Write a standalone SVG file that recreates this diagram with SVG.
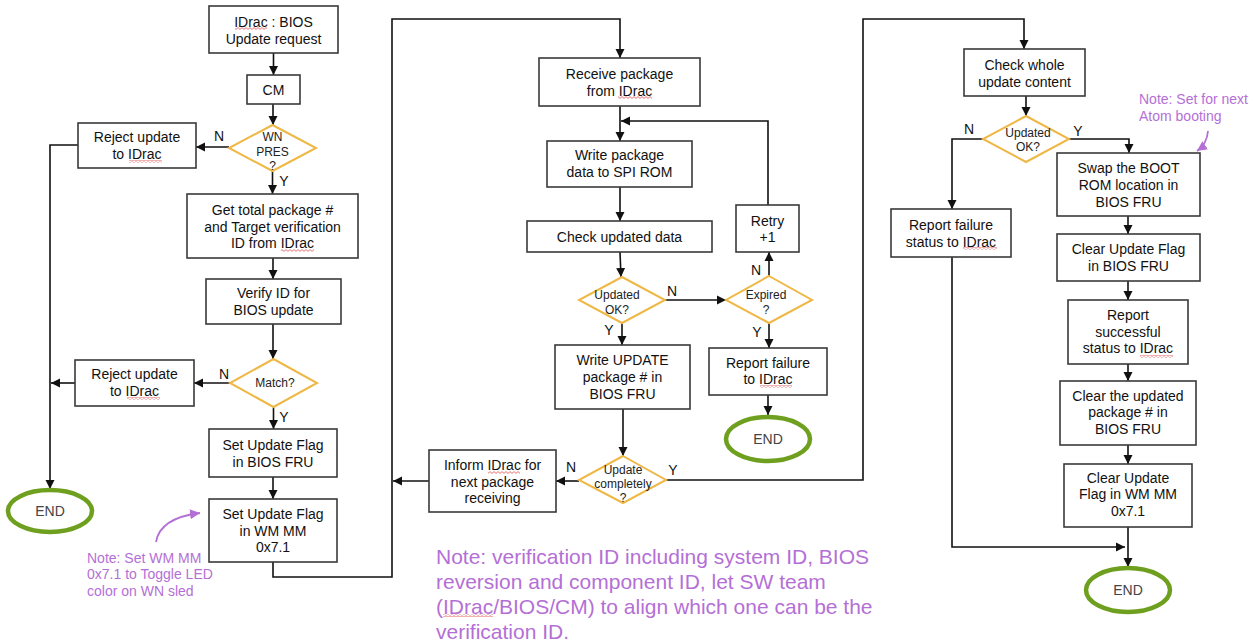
<svg xmlns="http://www.w3.org/2000/svg" width="1258" height="644" viewBox="0 0 1258 644">
<defs>
<style>
.box{fill:#fff;stroke:#3a3a3a;stroke-width:1.6}
.dia{fill:#fff;stroke:#efb845;stroke-width:2}
.end{fill:#fff;stroke:#6e9f1e;stroke-width:4.5}
.t{font-family:"Liberation Sans",Arial,sans-serif;font-size:14px;fill:#111;text-anchor:middle}
.ts{font-family:"Liberation Sans",Arial,sans-serif;font-size:12px;fill:#222;text-anchor:middle}
.te{font-family:"Liberation Sans",Arial,sans-serif;font-size:14px;fill:#444;text-anchor:middle}
.lb{font-family:"Liberation Sans",Arial,sans-serif;font-size:14px;fill:#111;text-anchor:middle}
.note{font-family:"Liberation Sans",Arial,sans-serif;font-size:14px;fill:#b46fd6}
.bignote{font-family:"Liberation Sans",Arial,sans-serif;font-size:21px;fill:#b46fd6}
.c{fill:none;stroke:#111;stroke-width:1.6}
.pc{fill:none;stroke:#b46fd6;stroke-width:1.8}
.sq{fill:url(#wave)}
</style>
<marker id="ah" markerWidth="10" markerHeight="10" refX="9" refY="5" orient="auto" markerUnits="userSpaceOnUse">
<path d="M0,0.5 L9,5 L0,9.5 Z" fill="#111"/>
</marker>
<marker id="ph" markerWidth="12" markerHeight="12" refX="10" refY="6" orient="auto" markerUnits="userSpaceOnUse">
<path d="M0,1 L10,6 L0,11 Z" fill="#b46fd6"/>
</marker>
<pattern id="wave" width="4" height="3" patternUnits="userSpaceOnUse">
<polyline points="0,2.4 2,0.6 4,2.4" fill="none" stroke="#d33" stroke-width="0.7"/>
</pattern>
</defs>

<g id="connectors">
<path class="c" d="M273.5,53 V75" marker-end="url(#ah)"/>
<path class="c" d="M273,104 V125" marker-end="url(#ah)"/>
<path class="c" d="M229,147 H196" marker-end="url(#ah)"/>
<path class="c" d="M272.5,171 V194" marker-end="url(#ah)"/>
<path class="c" d="M273,258 V279" marker-end="url(#ah)"/>
<path class="c" d="M273,324 V359" marker-end="url(#ah)"/>
<path class="c" d="M230,383 H194" marker-end="url(#ah)"/>
<path class="c" d="M75,383 H51" marker-end="url(#ah)"/>
<path class="c" d="M78,145 H50 V489" marker-end="url(#ah)"/>
<path class="c" d="M273.5,407 V429" marker-end="url(#ah)"/>
<path class="c" d="M273,477 V499" marker-end="url(#ah)"/>
<path class="c" d="M273,562 V577 H392 V19 H620 V58" marker-end="url(#ah)"/>
<path class="c" d="M429,481 H393" marker-end="url(#ah)"/>

<path class="c" d="M620,106 V141" marker-end="url(#ah)"/>
<path class="c" d="M768,205 V121 H621" marker-end="url(#ah)"/>
<path class="c" d="M620,187 V221" marker-end="url(#ah)"/>
<path class="c" d="M620,252 L621,277" marker-end="url(#ah)"/>
<path class="c" d="M665,300 H726" marker-end="url(#ah)"/>
<path class="c" d="M769,276 V252" marker-end="url(#ah)"/>
<path class="c" d="M769,323 V348" marker-end="url(#ah)"/>
<path class="c" d="M768,395 V415" marker-end="url(#ah)"/>
<path class="c" d="M622,323 V345" marker-end="url(#ah)"/>
<path class="c" d="M623,409 V456" marker-end="url(#ah)"/>
<path class="c" d="M579,481 H556" marker-end="url(#ah)"/>
<path class="c" d="M666,480 H863 V19 H1024 V49" marker-end="url(#ah)"/>

<path class="c" d="M1026,96 V116" marker-end="url(#ah)"/>
<path class="c" d="M983,139 H952 V209" marker-end="url(#ah)"/>
<path class="c" d="M952,257 V547 H1125" marker-end="url(#ah)"/>
<path class="c" d="M1069,139 H1129 V153" marker-end="url(#ah)"/>
<path class="c" d="M1128,216 V234" marker-end="url(#ah)"/>
<path class="c" d="M1128,281 V300" marker-end="url(#ah)"/>
<path class="c" d="M1128,364 V381" marker-end="url(#ah)"/>
<path class="c" d="M1128,445 V464" marker-end="url(#ah)"/>
<path class="c" d="M1128,527 V567" marker-end="url(#ah)"/>

<path class="pc" d="M156,542 Q160,518 200,513" marker-end="url(#ph)"/>
<path class="pc" d="M1208,131 Q1207,144 1197,151" marker-end="url(#ph)"/>

<text class="lb" x="219" y="141">N</text>
<text class="lb" x="284" y="186">Y</text>
<text class="lb" x="224" y="379">N</text>
<text class="lb" x="284" y="422">Y</text>
<text class="lb" x="672" y="296">N</text>
<text class="lb" x="756" y="275">N</text>
<text class="lb" x="757" y="337">Y</text>
<text class="lb" x="609" y="335">Y</text>
<text class="lb" x="571" y="472">N</text>
<text class="lb" x="673" y="475">Y</text>
<text class="lb" x="969" y="134">N</text>
<text class="lb" x="1078" y="136">Y</text>
</g>

<g id="n-start"><rect class="box" x="209" y="6" width="129" height="47"/><text class="t" x="273.5" y="27">IDrac : BIOS</text><text class="t" x="273.5" y="44">Update request</text><rect class="sq" x="235" y="27" width="32" height="3"/></g>
<g id="n-cm"><rect class="box" x="247" y="75" width="53" height="29"/><text class="t" x="273.5" y="94.5">CM</text></g>
<g id="n-wnpres"><polygon class="dia" points="272.5,125 316,148 272.5,171 229,148"/><text class="ts" x="272.5" y="141">WN</text><text class="ts" x="272.5" y="156">PRES</text><text class="ts" x="272.5" y="170">?</text></g>
<g id="n-reject1"><rect class="box" x="78" y="123" width="118" height="45"/><text class="t" x="137" y="142">Reject update</text><text class="t" x="137" y="159">to IDrac</text><rect class="sq" x="129" y="160" width="33" height="3"/></g>
<g id="n-gettotal"><rect class="box" x="187" y="194" width="171" height="64"/><text class="t" x="272.5" y="215">Get total package #</text><text class="t" x="272.5" y="232">and Target verification</text><text class="t" x="272.5" y="248">ID from IDrac</text><rect class="sq" x="281" y="249" width="33" height="3"/></g>
<g id="n-verify"><rect class="box" x="206" y="279" width="135" height="45"/><text class="t" x="273.5" y="298">Verify ID for</text><text class="t" x="273.5" y="315">BIOS update</text></g>
<g id="n-match"><polygon class="dia" points="273.5,359 317,383 273.5,407 230,383"/><text class="ts" x="275" y="387">Match?</text></g>
<g id="n-reject2"><rect class="box" x="75" y="360" width="119" height="46"/><text class="t" x="134.5" y="379">Reject update</text><text class="t" x="134.5" y="396">to IDrac</text><rect class="sq" x="127" y="397" width="33" height="3"/></g>
<g id="n-setbios"><rect class="box" x="209" y="429" width="128" height="48"/><text class="t" x="273" y="450">Set Update Flag</text><text class="t" x="273" y="467">in BIOS FRU</text></g>
<g id="n-setwm"><rect class="box" x="209" y="499" width="128" height="63"/><text class="t" x="273" y="519">Set Update Flag</text><text class="t" x="273" y="536">in WM MM</text><text class="t" x="273" y="552">0x7.1</text></g>
<g id="n-end1"><ellipse class="end" cx="50" cy="511" rx="42" ry="21"/><text class="te" x="50" y="516">END</text></g>
<g id="n-note1"><text class="note" x="87" y="563">Note: Set WM MM</text><text class="note" x="87" y="579">0x7.1 to Toggle LED</text><text class="note" x="87" y="596">color on WN sled</text></g>

<g id="n-receive"><rect class="box" x="539" y="58" width="161" height="48"/><text class="t" x="619.5" y="79">Receive package</text><text class="t" x="619.5" y="96">from IDrac</text><rect class="sq" x="618" y="96" width="34" height="3"/></g>
<g id="n-write"><rect class="box" x="547" y="141" width="145" height="46"/><text class="t" x="619.5" y="160">Write package</text><text class="t" x="619.5" y="177">data to SPI ROM</text></g>
<g id="n-check"><rect class="box" x="527" y="221" width="185" height="31"/><text class="t" x="619.5" y="242">Check updated data</text></g>
<g id="n-updok1"><polygon class="dia" points="622,277 665,300 622,323 579,300"/><text class="ts" x="617" y="299">Updated</text><text class="ts" x="617" y="314">OK?</text></g>
<g id="n-expired"><polygon class="dia" points="769,276 812,300 769,323 726,300"/><text class="ts" x="766" y="299">Expired</text><text class="ts" x="766" y="314">?</text></g>
<g id="n-retry"><rect class="box" x="736" y="205" width="63" height="47"/><text class="t" x="767.5" y="226">Retry</text><text class="t" x="767.5" y="242">+1</text></g>
<g id="n-repfail"><rect class="box" x="709" y="348" width="118" height="47"/><text class="t" x="768" y="368">Report failure</text><text class="t" x="768" y="384">to IDrac</text><rect class="sq" x="760" y="385" width="32" height="3"/></g>
<g id="n-end2"><ellipse class="end" cx="768" cy="439" rx="42" ry="22"/><text class="te" x="768" y="444">END</text></g>
<g id="n-writeupd"><rect class="box" x="555" y="345" width="135" height="64"/><text class="t" x="622.5" y="365">Write UPDATE</text><text class="t" x="622.5" y="382">package # in</text><text class="t" x="622.5" y="399">BIOS FRU</text></g>
<g id="n-updcomp"><polygon class="dia" points="623,456 666,480 623,503 579,480"/><text class="ts" x="623" y="474">Update</text><text class="ts" x="623" y="488">completely</text><text class="ts" x="623" y="502">?</text></g>
<g id="n-inform"><rect class="box" x="429" y="450" width="127" height="62"/><text class="t" x="492.5" y="470">Inform IDrac for</text><text class="t" x="492.5" y="487">next package</text><text class="t" x="492.5" y="503">receiving</text><rect class="sq" x="488" y="471" width="32" height="3"/></g>
<g id="n-note2"><text class="bignote" x="436" y="564">Note: verification ID including system ID, BIOS</text><text class="bignote" x="436" y="589">reversion and component ID, let SW team</text><text class="bignote" x="436" y="614">(IDrac/BIOS/CM) to align which one can be the</text><text class="bignote" x="436" y="639">verification ID.</text><rect class="sq" x="443" y="614" width="50" height="3"/></g>

<g id="n-checkwhole"><rect class="box" x="964" y="49" width="121" height="47"/><text class="t" x="1024.5" y="70">Check whole</text><text class="t" x="1024.5" y="87">update content</text></g>
<g id="n-updok2"><polygon class="dia" points="1026,116 1069,139 1026,162 983,139"/><text class="ts" x="1028" y="137">Updated</text><text class="ts" x="1028" y="151">OK?</text></g>
<g id="n-repfail2"><rect class="box" x="891" y="209" width="120" height="48"/><text class="t" x="951" y="230">Report failure</text><text class="t" x="951" y="247">status to IDrac</text><rect class="sq" x="963" y="247" width="34" height="3"/></g>
<g id="n-swap"><rect class="box" x="1057" y="153" width="143" height="63"/><text class="t" x="1128.5" y="173">Swap the BOOT</text><text class="t" x="1128.5" y="190">ROM location in</text><text class="t" x="1128.5" y="207">BIOS FRU</text></g>
<g id="n-clearbios"><rect class="box" x="1057" y="234" width="143" height="47"/><text class="t" x="1128.5" y="254">Clear Update Flag</text><text class="t" x="1128.5" y="271">in BIOS FRU</text></g>
<g id="n-repsucc"><rect class="box" x="1068" y="300" width="120" height="64"/><text class="t" x="1128" y="320">Report</text><text class="t" x="1128" y="337">successful</text><text class="t" x="1128" y="353">status to IDrac</text><rect class="sq" x="1140" y="355" width="33" height="3"/></g>
<g id="n-clearpkg"><rect class="box" x="1060" y="381" width="136" height="64"/><text class="t" x="1128" y="401">Clear the updated</text><text class="t" x="1128" y="417">package # in</text><text class="t" x="1128" y="434">BIOS FRU</text></g>
<g id="n-clearwm"><rect class="box" x="1064" y="464" width="128" height="63"/><text class="t" x="1128" y="483">Clear Update</text><text class="t" x="1128" y="499">Flag in WM MM</text><text class="t" x="1128" y="516">0x7.1</text></g>
<g id="n-end3"><ellipse class="end" cx="1128" cy="590" rx="42" ry="22"/><text class="te" x="1128" y="595">END</text></g>
<g id="n-note3"><text class="note" x="1139" y="104">Note: Set for next</text><text class="note" x="1139" y="121">Atom booting</text></g>
</svg>
